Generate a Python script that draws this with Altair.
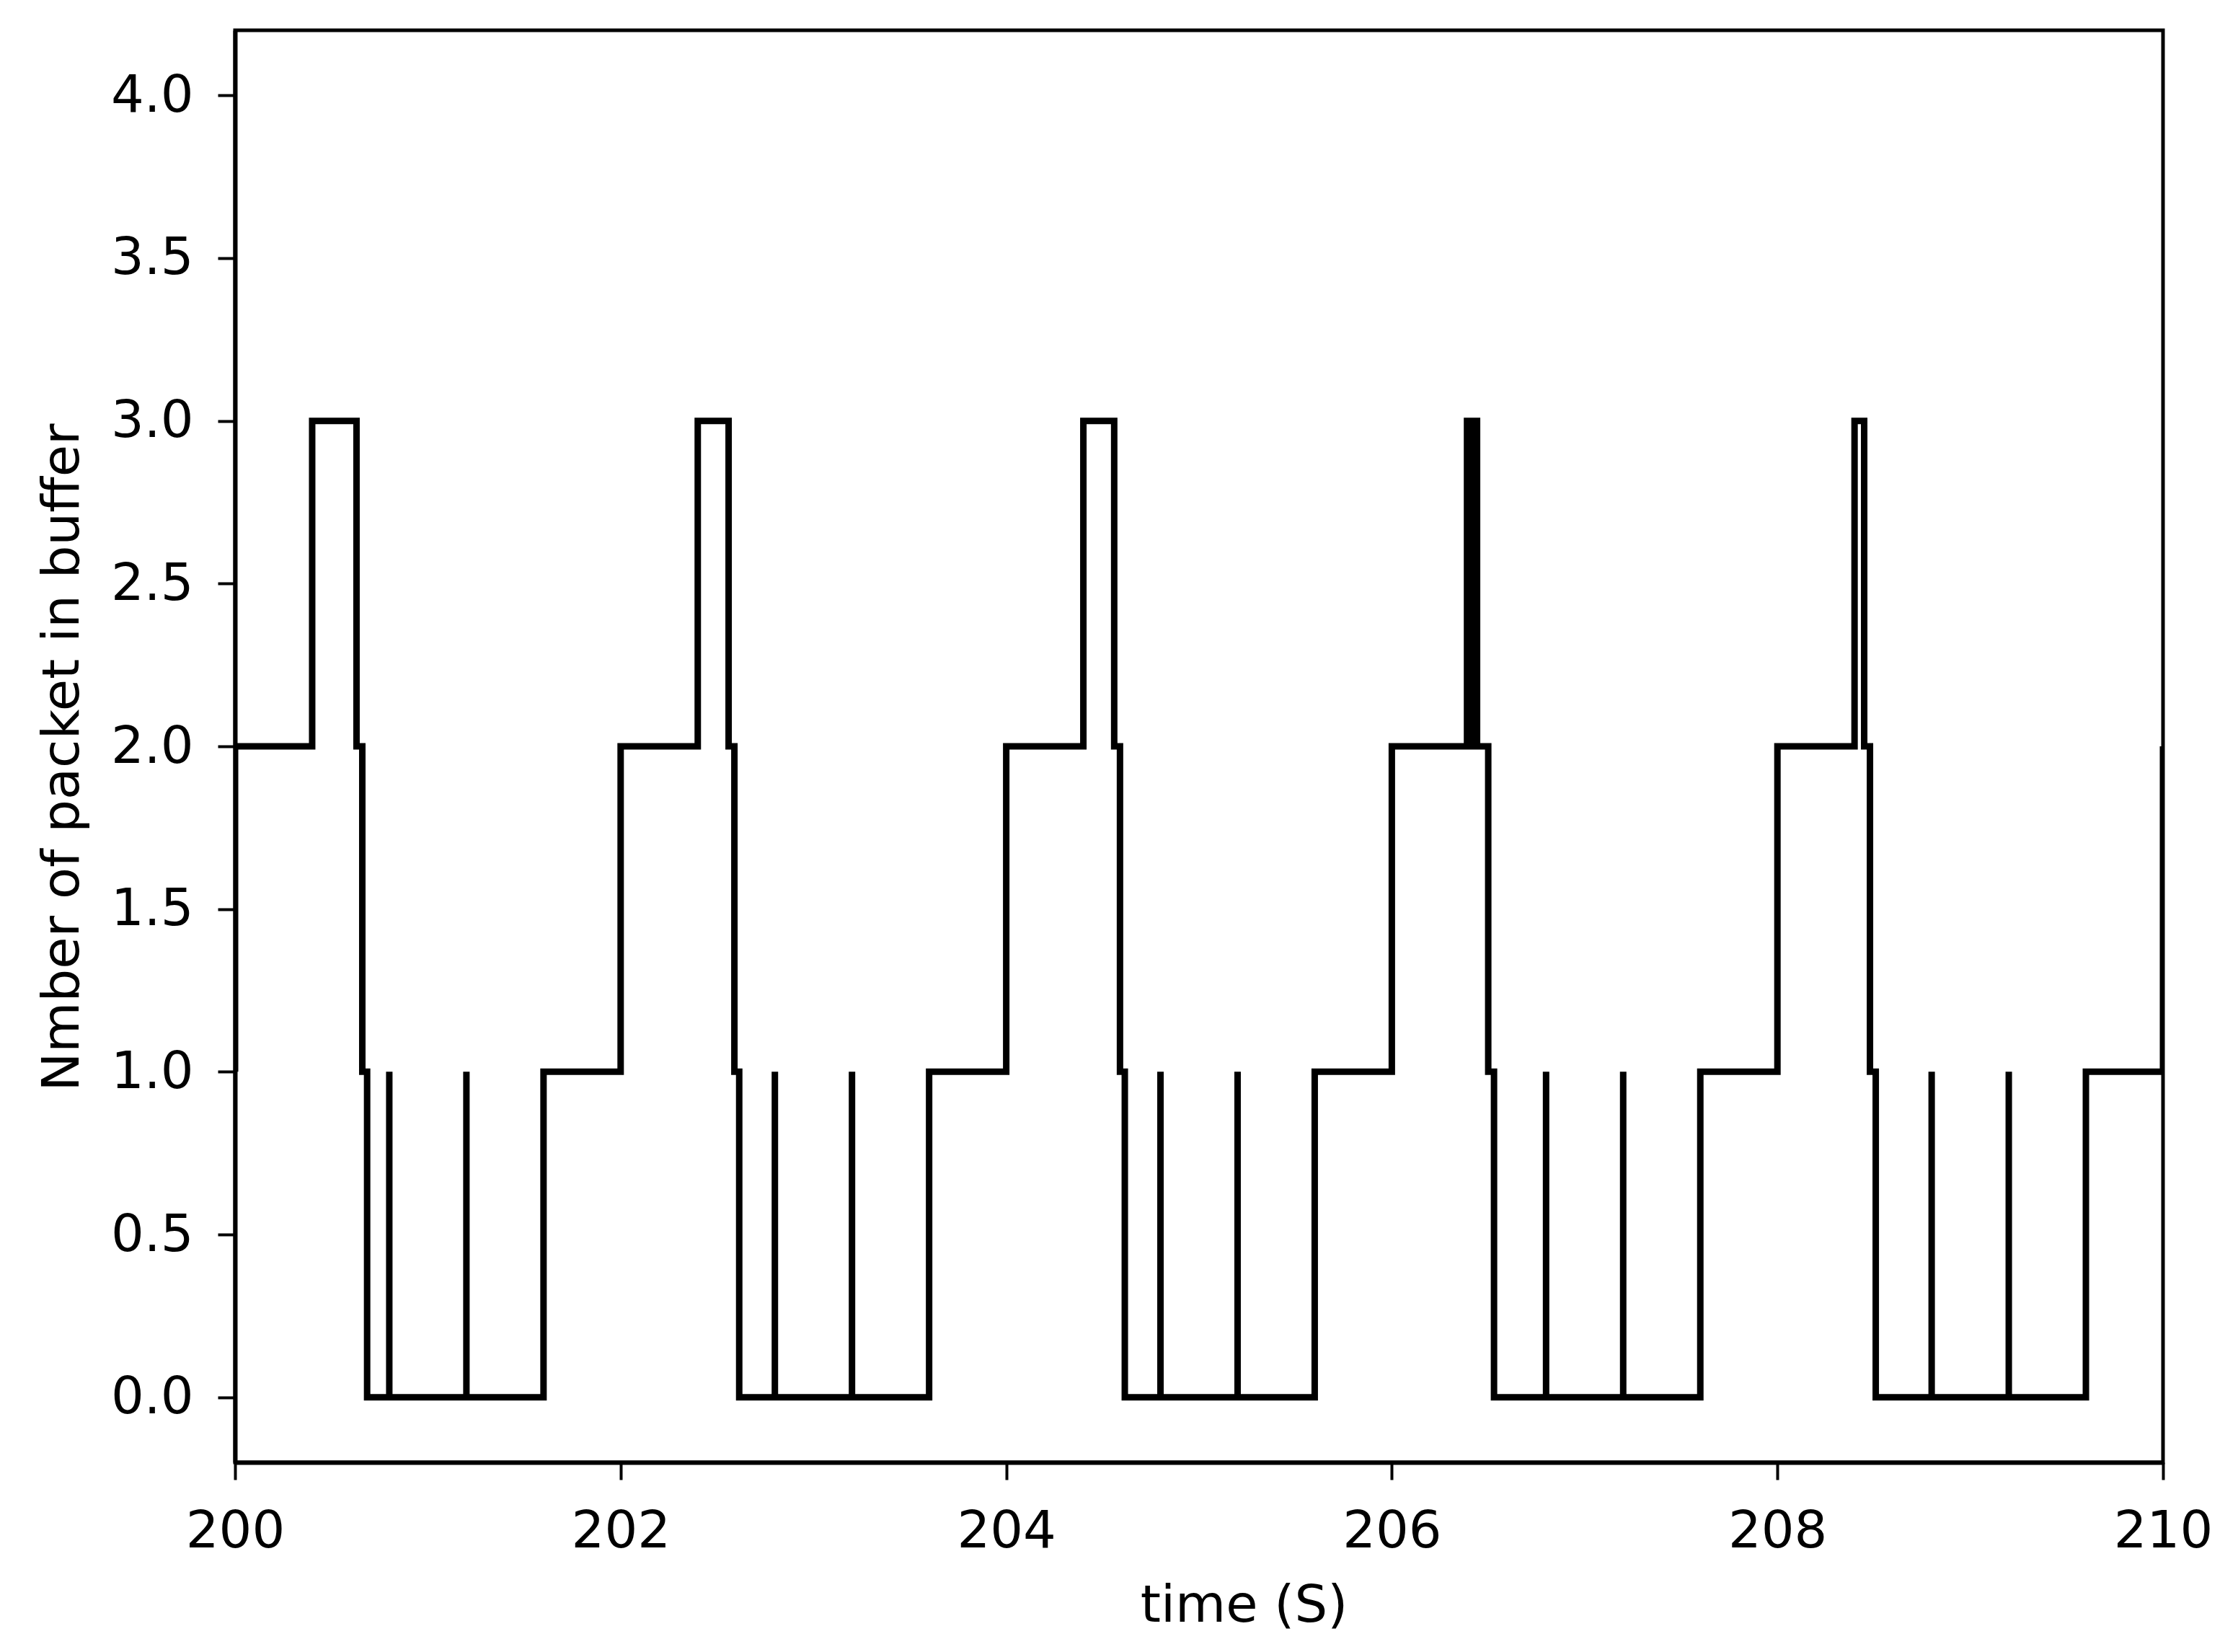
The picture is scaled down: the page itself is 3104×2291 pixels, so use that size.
import altair as alt
import pandas as pd

# Step events: (time in s, number of packets from that time on)
times = [200.0, 200.0, 200.40, 200.63, 200.66, 200.685, 200.80, 200.80, 201.20, 201.20,
         201.60, 202.00, 202.40, 202.56, 202.59, 202.615, 202.80, 202.80, 203.20, 203.20,
         203.60, 204.00, 204.40, 204.56, 204.59, 204.615, 204.80, 204.80, 205.20, 205.20,
         205.60, 206.00, 206.39, 206.394, 206.398, 206.402, 206.406, 206.41, 206.414, 206.418,
         206.422, 206.426, 206.43, 206.434, 206.438, 206.442,
         206.50, 206.53,
         206.80, 206.80, 207.20, 207.20, 207.60, 208.00, 208.40, 208.45, 208.48, 208.51,
         208.80, 208.80, 209.20, 209.20, 209.60, 210.0, 210.0]
packets = [1, 2, 3, 2, 1, 0, 1, 0, 1, 0,
           1, 2, 3, 2, 1, 0, 1, 0, 1, 0,
           1, 2, 3, 2, 1, 0, 1, 0, 1, 0,
           1, 2, 3, 2, 3, 2, 3, 2, 3, 2,
           3, 2, 3, 2, 3, 2,
           1, 0,
           1, 0, 1, 0, 1, 2, 3, 2, 1, 0,
           1, 0, 1, 0, 1, 1, 2]

x_ticks = [200, 202, 204, 206, 208, 210]
y_ticks = [0.0, 0.5, 1.0, 1.5, 2.0, 2.5, 3.0, 3.5, 4.0]

df = pd.DataFrame({"t": times, "n": packets, "i": list(range(len(times)))})

FONT = "DejaVu Sans"
FS = 72
W, H = 2674, 1986

line = alt.Chart(df).mark_line(
    interpolate="step-after", color="black", strokeWidth=9, clip=True
).encode(
    x=alt.X("t:Q", scale=alt.Scale(domain=[200, 210], nice=False, zero=False),
            axis=alt.Axis(values=x_ticks, format="d", title="time (S)",
                          grid=False, tickSize=24, tickWidth=4, tickColor="black",
                          domainColor="black", domainWidth=6,
                          labelFont=FONT, labelFontSize=FS, labelColor="black",
                          labelBaseline="alphabetic", labelPadding=93,
                          labelFlush=False,
                          titleFont=FONT, titleFontSize=FS, titleFontWeight="normal",
                          titleColor="black", titleBaseline="alphabetic",
                          titleX=1399, titleY=220, titleAnchor="middle", titleAlign="center")),
    y=alt.Y("n:Q", scale=alt.Scale(domain=[-0.2, 4.2], nice=False, zero=False),
            axis=alt.Axis(values=y_ticks, format=".1f", title="Nmber of packet in buffer",
                          grid=False, tickSize=24, tickWidth=4, tickColor="black",
                          domainColor="black", domainWidth=6,
                          labelFont=FONT, labelFontSize=FS, labelColor="black",
                          labelPadding=34, labelFlush=False,
                          titleFont=FONT, titleFontSize=FS, titleFontWeight="normal",
                          titleColor="black", titleBaseline="alphabetic",
                          titleX=-218, titleY=1008, titleAngle=-90,
                          titleAlign="center", titleAnchor="middle")),
    order="i:Q",
)

frame = alt.Chart(pd.DataFrame({"k": [0]})).mark_rect(
    fill=None, stroke="black", strokeWidth=5
).encode(
    x=alt.value(0), x2=alt.value(W), y=alt.value(0), y2=alt.value(H)
)

chart = alt.layer(line, frame).properties(
    width=W, height=H,
    autosize=alt.AutoSizeParams(type="none"),
    padding={"left": 318, "top": 34, "right": 90, "bottom": 240},
).configure_view(
    strokeWidth=0
).configure(background="white")

chart.save("out.html", embed_options={"renderer": "svg", "actions": False})
